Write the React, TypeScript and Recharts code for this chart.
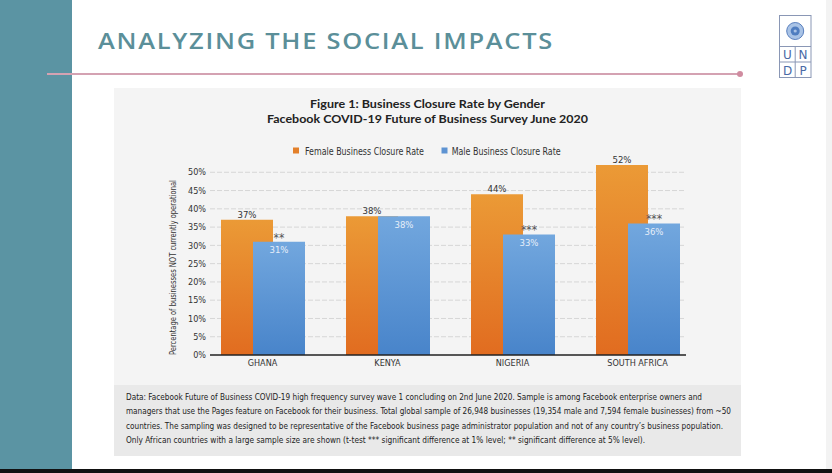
import React from 'react';
import { BarChart, Bar, XAxis, YAxis, CartesianGrid, LabelList, Label } from 'recharts';

const countries = ['GHANA', 'KENYA', 'NIGERIA', 'SOUTH AFRICA'];
const femaleRate = [37, 38, 44, 52];
const maleRate = [31, 38, 33, 36];
const significance = ['**', '', '***', '***'];
const yTicks = [0, 5, 10, 15, 20, 25, 30, 35, 40, 45, 50];
const yDomainMax = 55;
const seriesNames = ['Female Business Closure Rate', 'Male Business Closure Rate'];
const seriesColors = ['#E3802A', '#5E93D2'];
const pageTitle = 'ANALYZING THE SOCIAL IMPACTS';
const chartTitle = [
  'Figure 1: Business Closure Rate by Gender',
  'Facebook COVID-19 Future of Business Survey June 2020',
];
const yAxisTitle = 'Percentage of businesses NOT currently operational';
const footnoteLines = [
  'Data: Facebook Future of Business COVID-19 high frequency survey wave 1 concluding on 2nd June 2020. Sample is among Facebook enterprise owners and',
  'managers that use the Pages feature on Facebook for their business. Total global sample of 26,948 businesses (19,354 male and 7,594 female businesses) from ~50',
  "countries. The sampling was designed to be representative of the Facebook business page administrator population and not of any country\u2019s business population.",
  'Only African countries with a large sample size are shown (t-test *** significant difference at 1% level; ** significant difference at 5% level).',
];
const footnoteWidths = [576, 605, 597, 519];

const data = countries.map((country, i) => ({
  country,
  female: femaleRate[i],
  male: maleRate[i],
  sig: significance[i],
}));

const condensed = "'Liberation Sans Narrow','Arial Narrow','DejaVu Sans Condensed','Roboto Condensed','Liberation Sans',sans-serif";
const pct = (v: any) => `${v}%`;

const renderYTitle = (props: any) => {
  const vb = props.viewBox || { x: 110, y: 154, width: 100, height: 201 };
  const cx = vb.x + vb.width - 37;
  const cy = vb.y + vb.height / 2 + 13;
  return (
    <text
      x={cx}
      y={cy}
      transform={`rotate(-90 ${cx} ${cy})`}
      textAnchor="middle"
      dominantBaseline="central"
      fontFamily={condensed}
      fontSize={9}
      fill="#333"
      textLength={175}
      lengthAdjust="spacingAndGlyphs"
    >
      {yAxisTitle}
    </text>
  );
};

const gridLines = (props: any) => {
  const off = props.offset || { top: 154, height: 201 };
  const scale = props.yAxis && typeof props.yAxis.scale === 'function' ? props.yAxis.scale : null;
  return yTicks
    .filter((t) => t > 0)
    .map((t) => (scale ? scale(t) : off.top + off.height * (1 - t / yDomainMax)));
};

export default function App() {
  return (
    <div
      style={{
        position: 'absolute',
        left: 0,
        top: 0,
        width: 832,
        height: 473,
        overflow: 'hidden',
        background: '#ffffff',
      }}
    >
      <div style={{ position: 'absolute', left: 0, top: 0, width: 72, height: 469, background: '#5B94A3' }} />
      <div style={{ position: 'absolute', left: 826, top: 0, width: 6, height: 469, background: '#f3f3f3' }} />
      <div style={{ position: 'absolute', left: 0, top: 469, width: 832, height: 4, background: '#111' }} />
      <div style={{ position: 'absolute', left: 114, top: 88, width: 627, height: 297, background: '#f4f4f4' }} />
      <div style={{ position: 'absolute', left: 114, top: 385, width: 627, height: 71, background: '#e9e9e9' }} />

      <svg width={832} height={473} style={{ position: 'absolute', left: 0, top: 0 }}>
        <line x1={47} y1={74} x2={740} y2={74} stroke="#D4A2B2" strokeWidth={2} />
        <circle cx={740} cy={74} r={3} fill="#D08CA0" />
        <text
          x={98}
          y={48.5}
          fontFamily="'Open Sans',sans-serif"
          fontWeight={600}
          fontSize={22}
          letterSpacing={1.5}
          fill="#5B8F99"
          textLength={456}
          lengthAdjust="spacingAndGlyphs"
        >
          {pageTitle}
        </text>
        <rect x={779.5} y={15.5} width={31.5} height={62} fill="#fff" stroke="#8A97B5" strokeWidth={1} />
        <line x1={779.5} y1={46.5} x2={811} y2={46.5} stroke="#8A97B5" strokeWidth={1} />
        <line x1={779.5} y1={62} x2={811} y2={62} stroke="#8A97B5" strokeWidth={1} />
        <line x1={795.2} y1={46.5} x2={795.2} y2={77.5} stroke="#8A97B5" strokeWidth={1} />
        <circle cx={795.2} cy={31} r={8.5} fill="#A9C3E6" stroke="#5A80BE" strokeWidth={1} />
        <circle cx={795.2} cy={31} r={4.5} fill="#4F7DC0" />
        <circle cx={795.2} cy={31} r={1.6} fill="#A9C3E6" />
        <text x={787.5} y={59} textAnchor="middle" fontFamily="'DejaVu Sans',sans-serif" fontSize={12} fill="#4A6AA6">U</text>
        <text x={803} y={59} textAnchor="middle" fontFamily="'DejaVu Sans',sans-serif" fontSize={12} fill="#4A6AA6">N</text>
        <text x={787.5} y={74.5} textAnchor="middle" fontFamily="'DejaVu Sans',sans-serif" fontSize={12} fill="#4A6AA6">D</text>
        <text x={803} y={74.5} textAnchor="middle" fontFamily="'DejaVu Sans',sans-serif" fontSize={12} fill="#4A6AA6">P</text>
      </svg>

      <div style={{ position: 'absolute', left: 0, top: 0 }}>
        <BarChart
          width={832}
          height={473}
          data={data}
          margin={{ top: 154, right: 146, bottom: 98, left: 110 }}
          barSize={52}
          barGap={-20}
        >
          <defs>
            <linearGradient id="gradFemale" x1="0" y1="0" x2="0" y2="1">
              <stop offset="0%" stopColor="#EB9A36" />
              <stop offset="100%" stopColor="#E16C20" />
            </linearGradient>
            <linearGradient id="gradMale" x1="0" y1="0" x2="0" y2="1">
              <stop offset="0%" stopColor="#72A7DE" />
              <stop offset="100%" stopColor="#4884CA" />
            </linearGradient>
          </defs>
          <CartesianGrid
            vertical={false}
            stroke="#d6d6d6"
            strokeDasharray="5 2"
            horizontalCoordinatesGenerator={gridLines}
          />
          <XAxis
            dataKey="country"
            height={20}
            padding={{ left: -10, right: -14 }}
            axisLine={{ stroke: '#222', strokeWidth: 1.3 }}
            tickLine={false}
            tickSize={0}
            tickMargin={5}
            tick={{ fill: '#333', fontSize: 9, fontFamily: condensed }}
          />
          <YAxis
            domain={[0, yDomainMax]}
            ticks={yTicks}
            tickFormatter={pct}
            width={100}
            axisLine={false}
            tickLine={false}
            tickSize={0}
            tickMargin={4}
            tick={{ fill: '#333', fontSize: 9, fontFamily: condensed }}
          >
            <Label content={renderYTitle} />
          </YAxis>
          <Bar dataKey="female" name={seriesNames[0]} fill="url(#gradFemale)" isAnimationActive={false}>
            <LabelList
              dataKey="female"
              position="top"
              offset={2}
              formatter={pct}
              fill="#333"
              fontSize={9.5}
              fontFamily={condensed}
            />
          </Bar>
          <Bar dataKey="male" name={seriesNames[1]} fill="url(#gradMale)" isAnimationActive={false}>
            <LabelList
              dataKey="male"
              position="insideTop"
              offset={5}
              formatter={pct}
              fill="#E6EEF9"
              fontSize={9.5}
              fontFamily={condensed}
            />
            <LabelList
              dataKey="sig"
              position="top"
              offset={0}
              fill="#555"
              fontSize={12}
              fontFamily={condensed}
            />
          </Bar>
        </BarChart>
      </div>

      <svg width={832} height={473} style={{ position: 'absolute', left: 0, top: 0, pointerEvents: 'none' }}>
        <text x={427.5} y={108} textAnchor="middle" fontFamily="'Lato','Open Sans',sans-serif" fontWeight={700} fontSize={11.5} fill="#222" textLength={235} lengthAdjust="spacingAndGlyphs">
          {chartTitle[0]}
        </text>
        <text x={427.5} y={122.5} textAnchor="middle" fontFamily="'Lato','Open Sans',sans-serif" fontWeight={700} fontSize={11.5} fill="#222" textLength={321} lengthAdjust="spacingAndGlyphs">
          {chartTitle[1]}
        </text>
        <rect x={293} y={147.5} width={6} height={6} fill={seriesColors[0]} />
        <text x={305} y={155.3} fontFamily={condensed} fontSize={11} fill="#333" textLength={119} lengthAdjust="spacingAndGlyphs">
          {seriesNames[0]}
        </text>
        <rect x={441.5} y={147.5} width={6} height={6} fill={seriesColors[1]} />
        <text x={451.7} y={155.3} fontFamily={condensed} fontSize={11} fill="#333" textLength={109} lengthAdjust="spacingAndGlyphs">
          {seriesNames[1]}
        </text>
        {footnoteLines.map((line, i) => (
          <text
            key={i}
            x={126}
            y={399.5 + i * 14.6}
            fontFamily={condensed}
            fontSize={9.3}
            fill="#222"
            textLength={footnoteWidths[i]}
            lengthAdjust="spacingAndGlyphs"
          >
            {line}
          </text>
        ))}
      </svg>
    </div>
  );
}
